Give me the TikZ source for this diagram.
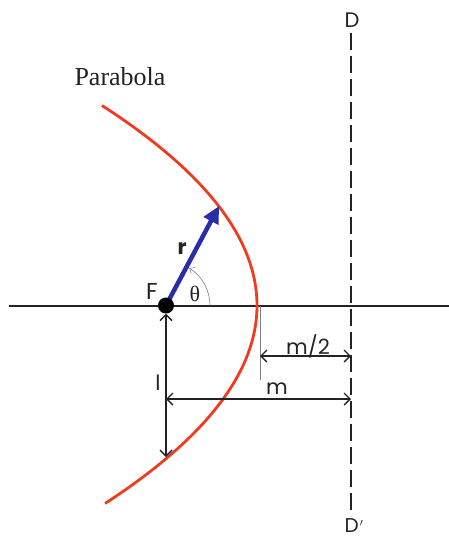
\documentclass[tikz,border=0pt]{standalone}
\usepackage{fontspec}
\setmainfont{Liberation Serif}
\newfontfamily\labfont{Poppins}
\usetikzlibrary{arrows.meta}
\definecolor{parared}{RGB}{240,60,30}
\definecolor{rblue}{RGB}{40,45,170}
\definecolor{ink}{RGB}{35,35,35}
\tikzset{
  dimline/.style={draw=ink, line width=1.6pt, {Straight Barb[length=6pt,width=12pt,line width=1.4pt]}-{Straight Barb[length=6pt,width=12pt,line width=1.4pt]}},
  lab/.style={font=\labfont\fontsize{21}{21}\selectfont, text=ink, inner sep=0pt},
}
\begin{document}
\begin{tikzpicture}[x=1pt,y=-1pt]
\useasboundingbox (0,0) rectangle (449,542);
% named points
\coordinate (axL) at (9,305.5);
\coordinate (axR) at (449,305.5);
\coordinate (dT) at (351,33);
\coordinate (dB) at (351,516);
\coordinate (F) at (166,305.5);
\coordinate (rtip) at (219,206);
\coordinate (lbot) at (166,457);
\coordinate (tickT) at (260,306);
\coordinate (tickB) at (260,380);
\coordinate (m2L) at (260,356);
\coordinate (m2R) at (351,356);
\coordinate (mL) at (166,399);
\coordinate (mR) at (351,399);
% axis
\draw[ink, line width=2pt] (axL) -- (axR);
% directrix
\draw[ink, line width=2pt, dash pattern=on 17pt off 6pt] (dT) -- (dB);
% parabola
\draw[parared, line width=2.8pt] plot[domain=-200:198, samples=120] ({257-(\x/258)*\x},{305.5+\x});
% theta arc
\draw[gray, line width=0.6pt, -{Straight Barb[length=4pt,width=7pt]}] (210,305.5) arc[start angle=0, end angle=-58, radius=44];
% radius vector
\draw[rblue, line width=4.5pt, -{Triangle[length=17pt,width=16pt]}] (F) -- (rtip);
% focus dot
\node[circle, fill=black, minimum size=16pt, inner sep=0pt] (Fdot) at (F) {};
% l arrow
\draw[dimline] (Fdot.south) -- (lbot);
% m/2 tick
\draw[gray, line width=0.8pt] (tickT) -- (tickB);
% dimension arrows
\draw[dimline] (m2L) -- (m2R);
\draw[dimline] (mL) -- (mR);
% labels
\node[font=\fontsize{26}{26}\selectfont, text=ink, inner sep=0pt] (ptxt) at (120,77) {Parabola};
\node[lab] (Dtop) at (352,20) {D};
\node[lab, font=\labfont\fontsize{20}{20}\selectfont, anchor=base, text depth=0pt] (Dbot) at (354,532) {D\kern1pt{\fontsize{15}{15}\selectfont$'$}};
\node[lab, font=\labfont\fontsize{23}{23}\selectfont] (Flab) at (152,291) {F};
\node[font=\fontsize{22}{22}\selectfont, text=ink, inner sep=0pt] (th) at (195,294) {θ};
\node[lab, font=\labfont\bfseries\fontsize{21}{21}\selectfont] (rlab) at (182,249) {r};
\node[lab] (llab) at (158,383) {l};
\node[lab] (m2lab) at (308,346) {m/2};
\node[lab] (mlab) at (277,389) {m};
\end{tikzpicture}
\end{document}
